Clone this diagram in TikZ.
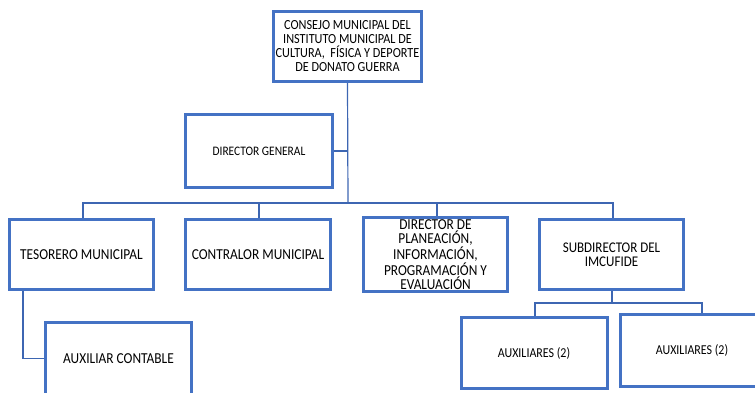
\documentclass[tikz,border=0pt]{standalone}
\usepackage{fontspec}
\setmainfont{Carlito}[FakeStretch=0.88]
\usetikzlibrary{positioning}
\definecolor{boxblue}{HTML}{4472C4}
\definecolor{linkblue}{HTML}{3D66B2}
\tikzset{
  orgbox/.style={draw=boxblue, line width=3pt, fill=white, minimum width=144pt, minimum height=70pt, align=center, inner sep=2pt, font=\fontsize{15.2}{14.3}\selectfont},
  smallbox/.style={orgbox, font=\fontsize{13.6}{14}\selectfont},
  link/.style={draw=linkblue, line width=1.2pt}
}

\begin{document}
\begin{tikzpicture}[x=1pt,y=-1pt]
  \useasboundingbox (0,0) rectangle (755,392);
  % top
  \node[orgbox, minimum width=147pt, font=\fontsize{13.9}{14}\selectfont] (consejo) at (347.5,46.5) {CONSEJO MUNICIPAL DEL\\INSTITUTO MUNICIPAL DE\\CULTURA,\ \ FÍSICA Y DEPORTE\\DE DONATO GUERRA};
  \node[orgbox, minimum width=147pt, minimum height=73pt, font=\fontsize{13}{14}\selectfont] (dirgen) at (259,151) {DIRECTOR GENERAL};
  % second level
  \node[orgbox] (tesorero) at (81.5,254.5) {TESORERO MUNICIPAL};
  \node[orgbox, minimum width=145pt] (contralor) at (258,254.5) {CONTRALOR MUNICIPAL};
  \node[orgbox] (planeacion) at (435.5,254.5) {DIRECTOR DE\\PLANEACIÓN,\\INFORMACIÓN,\\PROGRAMACIÓN Y\\EVALUACIÓN};
  \node[orgbox, font=\fontsize{14.8}{14.3}\selectfont] (subdir) at (611.5,254.5) {SUBDIRECTOR DEL\\IMCUFIDE};
  % third level
  \node[orgbox, minimum width=146pt, minimum height=73pt] (contable) at (118.5,358.5) {AUXILIAR CONTABLE};
  \node[smallbox, minimum width=146pt, minimum height=71pt] (aux1) at (534,353) {AUXILIARES (2)};
  \node[smallbox, minimum height=72pt] (aux2) at (692,350.5) {AUXILIARES (2)};
  \coordinate (bus) at (348,203);
  \coordinate (subbus) at (612,303);
  % connectors
  \draw[link] (consejo.south) -- (bus);
  \draw[link] (dirgen.east) -- (dirgen.east -| consejo.south);
  \draw[link] ([xshift=1.5pt]tesorero.north) |- (bus) -| ([xshift=1.5pt]subdir.north);
  \draw[link] ([xshift=1pt]contralor.north) -- ([xshift=1pt]contralor.north |- bus);
  \draw[link] ([xshift=1.5pt]planeacion.north) -- ([xshift=1.5pt]planeacion.north |- bus);
  \draw[link] ([xshift=-58.5pt]tesorero.south) |- (contable.west);
  \draw[link] (subdir.south -| subbus) -- (subbus);
  \draw[link] ([xshift=1pt]aux1.north) |- (subbus) -| ([xshift=10pt]aux2.north);
\end{tikzpicture}
\end{document}
